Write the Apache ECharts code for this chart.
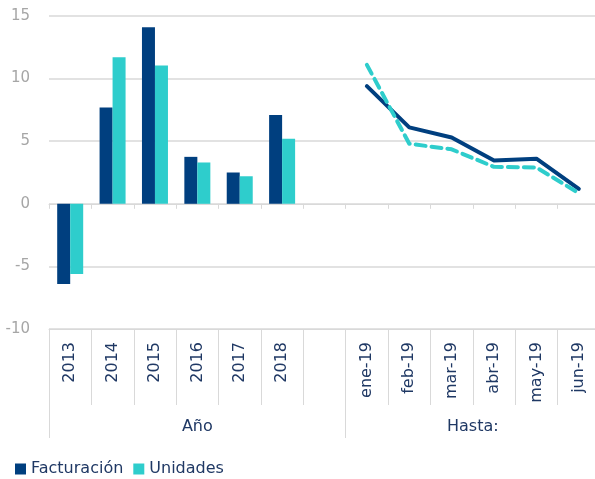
<!DOCTYPE html>
<html>
<head>
<meta charset="utf-8">
<script src="https://cdn.jsdelivr.net/npm/echarts@6/dist/echarts.min.js"></script>
<style>
  html, body { margin: 0; padding: 0; background: #fff; }
  #chart { width: 595px; height: 479px; }
</style>
</head>
<body>
<div id="chart"></div>
<script>
// categorías: años, un hueco y meses de 2019
const categories = ['2013', '2014', '2015', '2016', '2017', '2018', '',
    'ene-19', 'feb-19', 'mar-19', 'abr-19', 'may-19', 'jun-19']
const groupNames = ['Año', 'Hasta:']

// valores anuales (barras)
const factAnual = [-6.4, 7.7, 14.1, 3.75, 2.5, 7.1]
const unidAnual = [-5.6, 11.7, 11.05, 3.3, 2.2, 5.2]
// valores acumulados 2019 (líneas)
const factMes = [9.4, 6.1, 5.3, 3.45, 3.6, 1.2]
const unidMes = [11.1, 4.8, 4.35, 2.95, 2.9, 0.85]

const navy = '#003F7F'
const teal = '#2ECDCC'
const textDark = '#1F3864'
const gridGray = '#D9D9D9'
const font = 'DejaVu Sans'

const blanksMes = categories.length - factAnual.length
const blanksAnual = categories.length - factMes.length

const barFact = factAnual.concat(Array(blanksMes).fill('-'))
const barUnid = unidAnual.concat(Array(blanksMes).fill('-'))
const lineFact = Array(blanksAnual).fill('-').concat(factMes)
const lineUnid = Array(blanksAnual).fill('-').concat(unidMes)

const chart = echarts.init(document.getElementById('chart'))

let option = {
    animation: false,
    textStyle: { fontFamily: font },
    legend: {
        left: 10,
        top: 456,
        icon: 'rect',
        itemWidth: 11,
        itemHeight: 11,
        itemGap: 10,
        textStyle: { color: textDark, fontSize: 16, fontFamily: font },
        data: [
            { name: 'Facturación', itemStyle: { color: navy } },
            { name: 'Unidades', itemStyle: { color: teal } }
        ]
    },
    grid: {
        left: 49,
        width: 551,
        top: 16,
        bottom: 150,
        outerBoundsMode: 'none'
    },
    xAxis: [{
        // eje principal con etiquetas giradas en la parte de abajo
        type: 'category',
        data: categories,
        position: 'bottom',
        axisLine: { onZero: false, lineStyle: { color: gridGray } },
        axisTick: { show: true, interval: 0, length: 76, lineStyle: { color: gridGray } },
        axisLabel: {
            interval: 0,
            rotate: 90,
            margin: 13,
            color: textDark,
            fontSize: 16,
            fontFamily: font
        }
    }, {
        // línea del cero con marcas cortas
        type: 'category',
        data: categories,
        position: 'bottom',
        axisLine: { onZero: true, lineStyle: { color: gridGray } },
        axisTick: { show: true, interval: 0, length: 5, lineStyle: { color: gridGray } },
        axisLabel: { show: false }
    }, {
        // segundo nivel: Año / Hasta:
        type: 'value',
        min: 0,
        max: categories.length,
        position: 'bottom',
        axisLine: { show: false },
        splitLine: { show: false },
        axisTick: {
            show: true,
            length: 109,
            customValues: [0, 7, 13],
            lineStyle: { color: gridGray }
        },
        axisLabel: {
            customValues: [3.5, 10],
            margin: 90,
            color: textDark,
            fontSize: 16,
            fontFamily: font,
            formatter: function (v) {
                return v < 7 ? groupNames[0] : groupNames[1]
            }
        }
    }],
    yAxis: [{
        type: 'value',
        min: -10,
        max: 15,
        interval: 5,
        axisLine: { show: false },
        axisTick: { show: false },
        axisLabel: {
            margin: 19,
            color: '#A6A6A6',
            fontSize: 15,
            fontFamily: font
        },
        splitLine: { lineStyle: { color: gridGray, width: 1.5 } }
    }],
    series: [{
        name: 'Facturación',
        type: 'bar',
        data: barFact,
        barWidth: 13,
        barGap: '0%',
        itemStyle: { color: navy }
    }, {
        name: 'Unidades',
        type: 'bar',
        data: barUnid,
        barWidth: 13,
        barGap: '0%',
        itemStyle: { color: teal }
    }, {
        name: 'Facturación',
        type: 'line',
        data: lineFact,
        showSymbol: false,
        symbol: 'none',
        lineStyle: { color: navy, width: 4, cap: 'round', join: 'round' },
        itemStyle: { color: navy },
        z: 3
    }, {
        name: 'Unidades',
        type: 'line',
        data: lineUnid,
        showSymbol: false,
        symbol: 'none',
        lineStyle: { color: teal, width: 4, type: [10, 6], cap: 'round', join: 'round' },
        itemStyle: { color: teal },
        z: 4
    }]
}
chart.setOption(option)
</script>
</body>
</html>
